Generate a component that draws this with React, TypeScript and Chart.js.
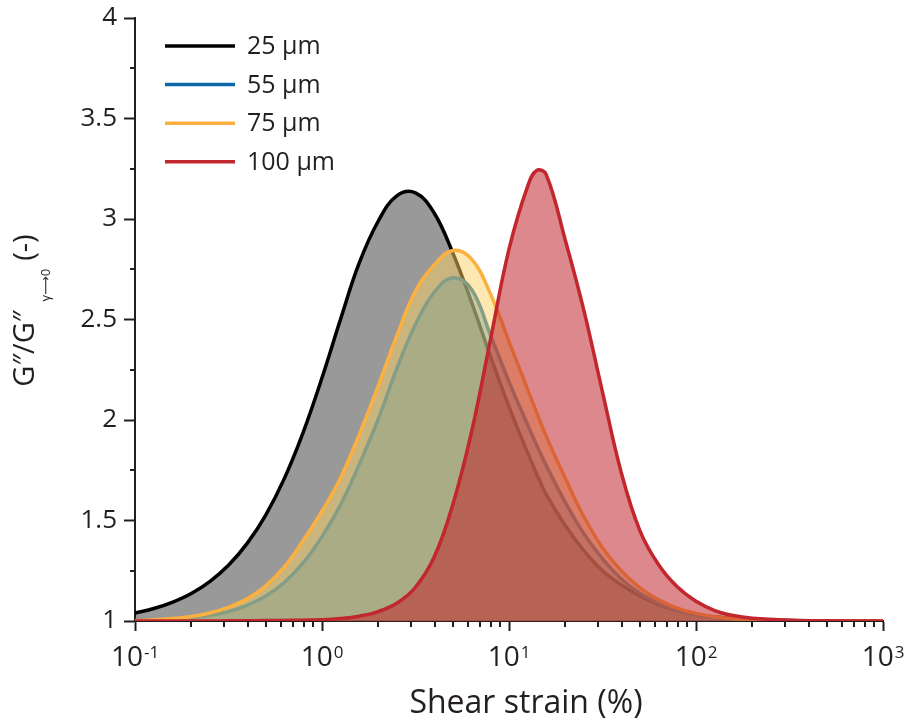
import React, { useEffect, useRef } from 'react';
import { Chart, registerables } from 'chart.js';

Chart.register(...registerables);

// ---- data ----
const strain = [0.1, 0.126, 0.158, 0.2, 0.251, 0.316, 0.398, 0.501, 0.631, 0.794, 1, 1.26, 1.58, 2, 2.51, 3.16, 3.98, 5.01, 6.31, 7.94, 10, 12.6, 14.1, 15.8, 20, 25.1, 31.6, 39.8, 50.1, 63.1, 79.4, 100, 126, 158, 200, 316, 501, 1000];

const g25 = [1.04, 1.062, 1.093, 1.137, 1.196, 1.277, 1.386, 1.528, 1.712, 1.94, 2.21, 2.505, 2.78, 2.99, 3.115, 3.13, 3.03, 2.83, 2.585, 2.32, 2.065, 1.835, 1.729, 1.63, 1.475, 1.35, 1.25, 1.18, 1.125, 1.082, 1.052, 1.032, 1.02, 1.012, 1.007, 1.002, 1.0, 1.0];
const g55 = [1.003, 1.005, 1.009, 1.017, 1.028, 1.047, 1.078, 1.125, 1.193, 1.29, 1.42, 1.58, 1.778, 2.005, 2.255, 2.475, 2.635, 2.708, 2.65, 2.425, 2.19, 1.975, 1.873, 1.775, 1.59, 1.435, 1.31, 1.21, 1.138, 1.088, 1.053, 1.031, 1.017, 1.009, 1.005, 1.002, 1.0, 1.0];
const g75 = [1.003, 1.006, 1.012, 1.022, 1.04, 1.068, 1.11, 1.175, 1.27, 1.4, 1.546, 1.714, 1.926, 2.17, 2.417, 2.642, 2.771, 2.843, 2.8, 2.63, 2.39, 2.15, 2.034, 1.92, 1.71, 1.52, 1.365, 1.25, 1.165, 1.105, 1.064, 1.038, 1.021, 1.011, 1.006, 1.002, 1.0, 1.0];
const g100 = [1.0, 1.0, 1.0, 1.0, 1.0, 1.001, 1.001, 1.002, 1.003, 1.004, 1.006, 1.012, 1.024, 1.047, 1.088, 1.168, 1.318, 1.58, 1.942, 2.395, 2.85, 3.165, 3.242, 3.222, 2.895, 2.548, 2.14, 1.74, 1.45, 1.28, 1.17, 1.098, 1.052, 1.027, 1.014, 1.004, 1.001, 1.0];

const seriesLabels = ['25 µm', '55 µm', '75 µm', '100 µm'];
const seriesValues = [g25, g55, g75, g100];
const lineColors = ['#000000', '#0d6aa8', '#fbb040', '#c1272d'];
const fillColors = ['rgba(0,0,0,0.4)', 'rgba(0,113,188,0.43)', 'rgba(251,210,100,0.5)', 'rgba(193,39,45,0.55)'];

const xMajorTicks = [0.1, 1, 10, 100, 1000];
const xTickBase = '10';
const xTickExponents = ['-1', '0', '1', '2', '3'];
const xMinorMultipliers = [2, 3, 4, 5, 6, 7, 8, 9];
const yMinorTicks = [1.25, 1.75, 2.25, 2.75, 3.25, 3.75];

const xTitle = 'Shear strain (%)';
const yTitleMain = 'G″/G″';
const yTitleSub = 'γ⟶0';
const yTitleEnd = '(-)';

const FONT = '"Open Sans", "DejaVu Sans", sans-serif';
const INK = '#231f20';

const decorPlugin = {
  id: 'decor',
  afterDraw(chart: any) {
    const { ctx, chartArea } = chart;
    const xs = chart.scales.x;
    const ys = chart.scales.y;
    ctx.save();

    // minor ticks
    ctx.strokeStyle = INK;
    ctx.lineWidth = 2;
    ctx.beginPath();
    xMajorTicks.slice(0, -1).forEach((d) => {
      xMinorMultipliers.forEach((m) => {
        const px = Math.round(xs.getPixelForValue(d * m));
        ctx.moveTo(px, chartArea.bottom);
        ctx.lineTo(px, chartArea.bottom + 6);
      });
    });
    yMinorTicks.forEach((v) => {
      const py = Math.round(ys.getPixelForValue(v));
      ctx.moveTo(chartArea.left - 5, py);
      ctx.lineTo(chartArea.left, py);
    });
    ctx.stroke();

    // x tick labels: 10 with superscript exponent
    ctx.fillStyle = INK;
    ctx.textBaseline = 'alphabetic';
    ctx.textAlign = 'left';
    xMajorTicks.forEach((v, i) => {
      const px = xs.getPixelForValue(v);
      ctx.font = `28px ${FONT}`;
      const w1 = ctx.measureText(xTickBase).width;
      ctx.font = `17px ${FONT}`;
      const w2 = ctx.measureText(xTickExponents[i]).width;
      const start = px - (w1 + 1 + w2) / 2;
      ctx.font = `28px ${FONT}`;
      ctx.fillText(xTickBase, start, chartArea.bottom + 45);
      ctx.font = `17px ${FONT}`;
      ctx.fillText(xTickExponents[i], start + w1 + 1, chartArea.bottom + 37);
    });

    // x title
    ctx.font = `32px ${FONT}`;
    ctx.textAlign = 'center';
    ctx.fillText(xTitle, (chartArea.left + chartArea.right) / 2 + 17, chartArea.bottom + 92);

    // y title (rotated, with subscript)
    ctx.textAlign = 'left';
    ctx.font = `29px ${FONT}`;
    const wMain = ctx.measureText(yTitleMain).width;
    const wEnd = ctx.measureText(yTitleEnd).width;
    ctx.font = `13px ${FONT}`;
    const wSub = ctx.measureText(yTitleSub).width;
    const gap1 = 9;
    const gap2 = 8;
    const total = wMain + gap1 + wSub + gap2 + wEnd;
    const cy = (chartArea.top + chartArea.bottom) / 2 - 9;
    ctx.translate(0, cy);
    ctx.rotate(-Math.PI / 2);
    let lx = -total / 2;
    ctx.font = `29px ${FONT}`;
    ctx.fillText(yTitleMain, lx, 34);
    lx += wMain + gap1;
    ctx.font = `13px ${FONT}`;
    ctx.fillText(yTitleSub, lx, 50);
    lx += wSub + gap2;
    ctx.font = `29px ${FONT}`;
    ctx.fillText(yTitleEnd, lx, 34);
    ctx.setTransform(1, 0, 0, 1, 0, 0);

    // legend
    ctx.font = `25px ${FONT}`;
    ctx.textBaseline = 'middle';
    seriesLabels.forEach((label, i) => {
      const yy = chartArea.top + 28 + i * 38.6;
      ctx.strokeStyle = lineColors[i];
      ctx.lineWidth = 3.5;
      ctx.beginPath();
      ctx.moveTo(chartArea.left + 30, yy);
      ctx.lineTo(chartArea.left + 100, yy);
      ctx.stroke();
      ctx.fillStyle = INK;
      ctx.fillText(label, chartArea.left + 112, yy + 1);
    });

    ctx.restore();
  },
};

export default function App() {
  const ref = useRef<HTMLCanvasElement>(null);

  useEffect(() => {
    if (!ref.current) return;
    const datasets = seriesValues.map((vals, i) => ({
      label: seriesLabels[i],
      data: strain.map((s, k) => ({ x: s, y: vals[k] })),
      borderColor: lineColors[i],
      backgroundColor: fillColors[i],
      borderWidth: 3.5,
      fill: 'start',
      pointRadius: 0,
      tension: 0.4,
      order: 4 - i,
    }));

    const chart = new Chart(ref.current, {
      type: 'line',
      data: { datasets },
      options: {
        responsive: false,
        animation: false,
        devicePixelRatio: 1,
        layout: { autoPadding: false, padding: { top: 18, right: 26, bottom: 0, left: 0 } },
        plugins: { legend: { display: false }, tooltip: { enabled: false } },
        scales: {
          x: {
            type: 'logarithmic',
            min: 0.1,
            max: 1000,
            afterBuildTicks: (s: any) => {
              s.ticks = xMajorTicks.map((v) => ({ value: v, major: true }));
            },
            afterFit: (s: any) => {
              s.height = 104;
              s.paddingLeft = 0;
              s.paddingRight = 0;
            },
            ticks: { display: false, autoSkip: false },
            grid: { drawOnChartArea: false, drawTicks: true, tickLength: 10, tickWidth: 2, tickColor: INK },
            border: { display: true, color: INK, width: 2 },
          },
          y: {
            type: 'linear',
            min: 1,
            max: 4,
            afterFit: (s: any) => {
              s.width = 135;
              s.paddingTop = 0;
              s.paddingBottom = 0;
            },
            ticks: {
              stepSize: 0.5,
              color: INK,
              padding: 7,
              font: { family: FONT, size: 26 },
              callback: (v: any) => String(Number(v)),
            },
            grid: { drawOnChartArea: false, drawTicks: true, tickLength: 11, tickWidth: 2, tickColor: INK },
            border: { display: true, color: INK, width: 2 },
          },
        },
      },
      plugins: [decorPlugin],
    } as any);

    return () => chart.destroy();
  }, []);

  return (
    <div style={{ position: 'absolute', left: 0, top: 0, width: 909, height: 725, background: '#ffffff' }}>
      <canvas ref={ref} width={909} height={725} style={{ display: 'block', width: 909, height: 725 }} />
    </div>
  );
}
